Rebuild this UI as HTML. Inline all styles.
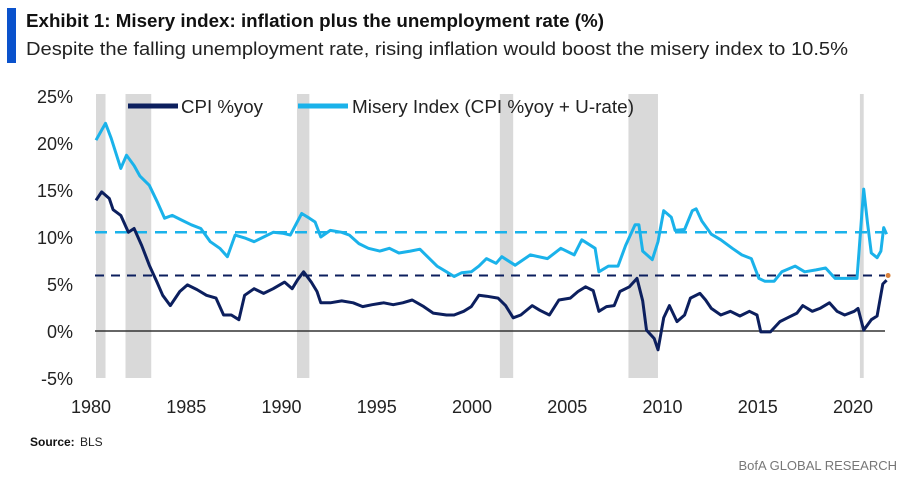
<!DOCTYPE html>
<html><head><meta charset="utf-8">
<style>
body{margin:0;background:#fff;width:905px;height:484px;overflow:hidden;font-family:"Liberation Sans",sans-serif;}
svg{display:block}
</style></head><body>
<svg width="905" height="484">
<rect x="7" y="8" width="9" height="55" fill="#0a52cc"/>
<text x="26" y="27" font-size="18" font-weight="bold" fill="#111" textLength="578" lengthAdjust="spacingAndGlyphs">Exhibit 1: Misery index: inflation plus the unemployment rate (%)</text>
<text x="26" y="55" font-size="18" fill="#222" textLength="822" lengthAdjust="spacingAndGlyphs">Despite the falling unemployment rate, rising inflation would boost the misery index to 10.5%</text>
<g id="rec"></g>
<g id="axes"></g>
<g id="lines"></g>
<g>
<line x1="128" y1="106" x2="178" y2="106" stroke="#0c1f5e" stroke-width="5"/>
<text x="181" y="113" font-size="18" fill="#222" textLength="82" lengthAdjust="spacingAndGlyphs">CPI %yoy</text>
<line x1="298" y1="106" x2="348" y2="106" stroke="#1ab2ea" stroke-width="5"/>
<text x="352" y="113" font-size="18" fill="#222" textLength="282" lengthAdjust="spacingAndGlyphs">Misery Index (CPI %yoy + U-rate)</text>
</g>
<text x="30" y="446" font-size="12" font-weight="bold" fill="#111">Source:</text>
<text x="80" y="446" font-size="12" fill="#222">BLS</text>
<text x="897" y="470" font-size="13" fill="#777" text-anchor="end">BofA GLOBAL RESEARCH</text>
</svg>
<script>
const yTicks=[25,20,15,10,5,0,-5];
const xTicks=[1980,1985,1990,1995,2000,2005,2010,2015,2020];
const recStart=[1980.0,1981.55,1990.55,2001.2,2007.95,2020.1];
const recEnd=[1980.5,1982.9,1991.2,2001.9,2009.5,2020.3];
const cpiYears=[1980.0,1980.3,1980.7,1980.9,1981.3,1981.7,1982.0,1982.4,1982.8,1983.2,1983.5,1983.9,1984.4,1984.8,1985.3,1985.8,1986.3,1986.7,1987.1,1987.5,1987.8,1988.3,1988.8,1989.3,1989.9,1990.3,1990.6,1990.9,1991.3,1991.6,1991.8,1992.3,1992.9,1993.5,1994.0,1994.5,1995.1,1995.6,1996.1,1996.6,1997.2,1997.7,1998.4,1998.8,1999.3,1999.7,2000.1,2000.5,2001.1,2001.5,2001.9,2002.3,2002.9,2003.3,2003.8,2004.3,2004.9,2005.3,2005.7,2006.1,2006.4,2006.8,2007.2,2007.5,2008.0,2008.4,2008.7,2008.9,2009.3,2009.5,2009.8,2010.1,2010.5,2010.9,2011.2,2011.7,2012.0,2012.3,2012.8,2013.3,2013.8,2014.3,2014.7,2014.9,2015.4,2015.9,2016.3,2016.8,2017.1,2017.6,2018.0,2018.5,2018.9,2019.3,2019.8,2020.0,2020.3,2020.7,2021.0,2021.3,2021.5];
const cpiValues=[13.9,14.8,14.1,12.9,12.3,10.5,10.9,9.1,7.0,5.2,3.8,2.7,4.2,4.9,4.4,3.8,3.5,1.7,1.7,1.2,3.8,4.5,4.0,4.5,5.2,4.5,5.5,6.3,5.2,4.2,3.0,3.0,3.2,3.0,2.6,2.8,3.0,2.8,3.0,3.3,2.6,1.9,1.7,1.7,2.1,2.6,3.8,3.7,3.5,2.7,1.4,1.7,2.7,2.2,1.7,3.3,3.5,4.2,4.7,4.3,2.1,2.6,2.7,4.2,4.7,5.6,3.2,0.1,-0.8,-2.0,1.4,2.7,1.0,1.7,3.5,4.0,3.3,2.4,1.7,2.1,1.6,2.1,1.7,-0.1,-0.1,1.0,1.4,1.9,2.7,2.1,2.4,3.0,2.1,1.7,2.1,2.4,0.1,1.2,1.6,5.0,5.4];
const miseryYears=[1980.0,1980.5,1980.8,1981.3,1981.6,1982.0,1982.3,1982.8,1983.2,1983.6,1984.0,1984.5,1985.0,1985.5,1986.0,1986.5,1986.9,1987.3,1987.8,1988.3,1988.8,1989.3,1989.8,1990.2,1990.8,1991.2,1991.5,1991.8,1992.3,1992.9,1993.3,1993.8,1994.3,1994.9,1995.4,1995.9,1996.5,1997.0,1997.5,1997.9,1998.4,1998.8,1999.2,1999.7,2000.1,2000.5,2001.0,2001.3,2002.0,2002.8,2003.7,2004.4,2005.1,2005.5,2006.2,2006.4,2006.9,2007.4,2007.8,2008.3,2008.5,2008.7,2009.2,2009.5,2009.8,2010.2,2010.4,2010.9,2011.3,2011.5,2011.8,2012.3,2012.8,2013.4,2013.9,2014.4,2014.8,2015.1,2015.6,2016.0,2016.7,2017.2,2017.8,2018.3,2018.8,2019.5,2019.95,2020.3,2020.5,2020.7,2021.0,2021.2,2021.35,2021.5];
const miseryValues=[20.3,22.1,20.5,17.3,18.7,17.6,16.5,15.5,13.8,12.0,12.3,11.8,11.3,10.9,9.5,8.8,7.9,10.2,9.9,9.5,10.0,10.5,10.4,10.2,12.5,12.0,11.6,10.0,10.7,10.5,10.2,9.3,8.8,8.5,8.8,8.3,8.5,8.7,7.7,6.9,6.3,5.8,6.2,6.3,6.9,7.7,7.2,7.9,7.0,8.1,7.7,8.8,8.1,9.7,8.8,6.3,6.9,6.9,9.1,11.3,11.3,8.5,7.6,9.5,12.8,12.1,10.7,10.8,12.8,13.0,11.7,10.3,9.7,8.8,8.1,7.7,5.6,5.3,5.3,6.3,6.9,6.3,6.5,6.7,5.6,5.6,5.6,15.1,11.5,8.3,7.8,8.5,11.0,10.3];
const miseryTarget=10.5, cpiTarget=5.9;
const NS='http://www.w3.org/2000/svg';
const x=t=>96+(t-1980)*19.05;
const y=v=>331-v*9.4;
const X0=95,X1=885;
function mk(tag,attrs,parent){const e=document.createElementNS(NS,tag);for(const k in attrs)e.setAttribute(k,attrs[k]);parent.appendChild(e);return e;}
const rec=document.getElementById('rec'),axes=document.getElementById('axes'),lines=document.getElementById('lines');
recStart.forEach((s,i)=>{
 const r=mk('rect',{x:x(s),y:94,width:Math.max(3,x(recEnd[i])-x(s)),height:284,fill:'#d9d9d9'},rec);
 
 
});
yTicks.forEach(v=>{
 const t=mk('text',{x:73,y:y(v)+7,'font-size':18,fill:'#222','text-anchor':'end'},axes);t.textContent=v+'%';
 
 
});
xTicks.forEach(v=>{
 const t=mk('text',{x:x(v)-5,y:413,'font-size':18,fill:'#222','text-anchor':'middle'},axes);t.textContent=v;
 
 
});
const z=mk('line',{x1:X0,x2:X1,y1:y(0),y2:y(0),stroke:'#333','stroke-width':1.5},axes);


const d1=mk('line',{x1:X0,x2:X1,y1:y(miseryTarget),y2:y(miseryTarget),stroke:'#1ab2ea','stroke-width':2.5,'stroke-dasharray':'12 8'},lines);


const d2=mk('line',{x1:X0,x2:X1,y1:y(cpiTarget),y2:y(cpiTarget),stroke:'#0c1f5e','stroke-width':2,'stroke-dasharray':'9 7'},lines);


function path(xs,vs){return xs.map((t,i)=>(i?'L':'M')+x(t).toFixed(1)+','+y(vs[i]).toFixed(1)).join(' ');}
const pm=mk('path',{d:path(miseryYears,miseryValues),fill:'none',stroke:'#1ab2ea','stroke-width':3,'stroke-linejoin':'round'},lines);


const pc=mk('path',{d:path(cpiYears,cpiValues),fill:'none',stroke:'#0c1f5e','stroke-width':3,'stroke-linejoin':'round'},lines);


const dot=mk('circle',{cx:x(cpiYears[cpiYears.length-1])+1.5,cy:y(cpiTarget),r:2.5,fill:'#d8803a'},lines);


</script>
</body></html>
